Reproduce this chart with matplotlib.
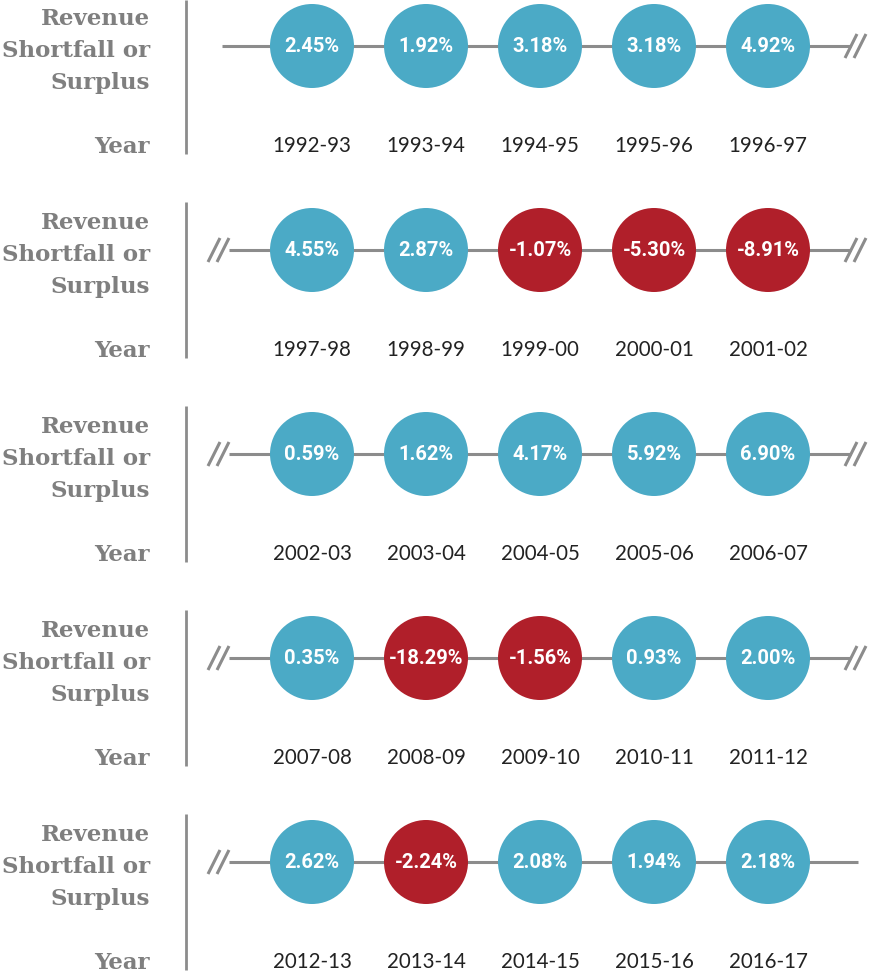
import matplotlib
matplotlib.use("Agg")
import matplotlib.pyplot as plt
from matplotlib.patches import Circle

years = ["1992-93", "1993-94", "1994-95", "1995-96", "1996-97",
         "1997-98", "1998-99", "1999-00", "2000-01", "2001-02",
         "2002-03", "2003-04", "2004-05", "2005-06", "2006-07",
         "2007-08", "2008-09", "2009-10", "2010-11", "2011-12",
         "2012-13", "2013-14", "2014-15", "2015-16", "2016-17"]
values = [2.45, 1.92, 3.18, 3.18, 4.92,
          4.55, 2.87, -1.07, -5.30, -8.91,
          0.59, 1.62, 4.17, 5.92, 6.90,
          0.35, -18.29, -1.56, 0.93, 2.00,
          2.62, -2.24, 2.08, 1.94, 2.18]

BLUE = "#4BAAC6"
RED = "#B01F2A"
GREY = "#8C8C8C"
LABEL_GREY = "#7F7F7F"

W, H = 880, 974
fig = plt.figure(figsize=(W / 100, H / 100), dpi=100)
ax = fig.add_axes([0, 0, 1, 1])
ax.set_xlim(0, W)
ax.set_ylim(H, 0)
ax.axis("off")

per_row = 5
n_rows = len(values) // per_row
row_y0, row_dy = 46, 204
x0, dx = 312, 114
radius = 42

serif = ["DejaVu Serif"]
sans = ["Lato", "DejaVu Sans"]
bold_sans = ["Roboto", "DejaVu Sans"]

def slash_pair(xs, y):
    for xx in xs:
        ax.plot([xx, xx + 12], [y + 12, y - 12], color=GREY, lw=2.2,
                solid_capstyle="butt", zorder=1)

for r in range(n_rows):
    y = row_y0 + r * row_dy
    # vertical divider
    ax.plot([186, 186], [y - 46 if r == 0 else y - 48, y + 108],
            color=GREY, lw=2, solid_capstyle="butt")
    # left labels
    for k, t in enumerate(["Revenue", "Shortfall or", "Surplus"]):
        ax.text(150, y - 27 + k * 32, t, ha="right", va="center",
                fontsize=16.5, fontweight="bold", color=LABEL_GREY,
                family=serif)
    ax.text(150, y + 101, "Year", ha="right", va="center",
            fontsize=16.5, fontweight="bold", color=LABEL_GREY, family=serif)
    # horizontal line
    left = 222 if r == 0 else 229
    right = 858 if r == n_rows - 1 else 851
    ax.plot([left, right], [y, y], color=GREY, lw=2.2, zorder=1,
            solid_capstyle="butt")
    if r > 0:
        slash_pair([208, 217], y)
    if r < n_rows - 1:
        slash_pair([845, 854], y)
    for c in range(per_row):
        i = r * per_row + c
        v = values[i]
        cx = x0 + c * dx
        ax.add_patch(Circle((cx, y), radius, color=BLUE if v >= 0 else RED,
                            zorder=2, lw=0))
        ax.text(cx, y, f"{v:.2f}%", ha="center", va="center", color="white",
                fontsize=14.5, fontweight="bold", family=bold_sans, zorder=3)
        ax.text(cx, y + 100, years[i], ha="center", va="center",
                color="#222222", fontsize=14.8, family=sans, zorder=3)

fig.savefig("out.png", dpi=100)
